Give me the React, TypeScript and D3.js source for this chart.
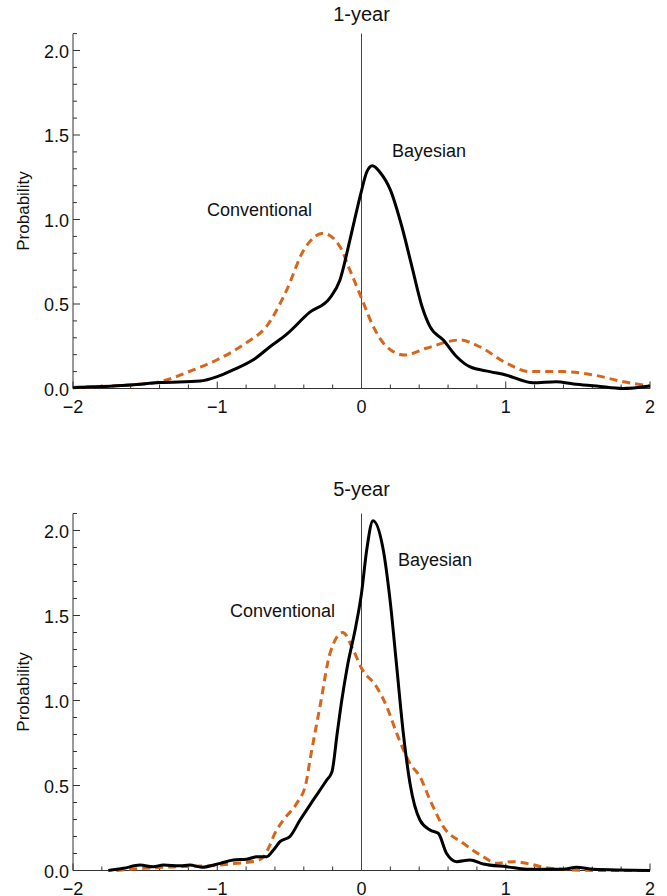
import React from "react";
import * as d3 from "d3";

// ---------- data ----------
const xTickValues = [-2, -1, 0, 1, 2];
const xTickLabels = ["\u22122", "\u22121", "0", "1", "2"];
const yTickValues = [0, 0.5, 1, 1.5, 2];
const yTickLabels = ["0.0", "0.5", "1.0", "1.5", "2.0"];
const panelTitles = ["1-year", "5-year"];
const seriesNames = ["Bayesian", "Conventional"];

// 1-year, Bayesian (black solid)
const bayes1X = [-2.0, -1.8, -1.6, -1.4, -1.12, -1.0, -0.89, -0.75, -0.63, -0.52, -0.36, -0.22, -0.15, -0.08, 0.0, 0.036, 0.075, 0.128, 0.2, 0.28, 0.35, 0.42, 0.475, 0.567, 0.66, 0.75, 0.89, 1.0, 1.19, 1.35, 1.47, 1.63, 1.81, 2.0];
const bayes1Y = [0.005, 0.012, 0.02, 0.035, 0.044, 0.07, 0.11, 0.17, 0.25, 0.32, 0.45, 0.535, 0.64, 0.88, 1.17, 1.28, 1.318, 1.28, 1.175, 0.957, 0.72, 0.484, 0.366, 0.287, 0.188, 0.129, 0.1, 0.08, 0.034, 0.04, 0.027, 0.015, 0.0, 0.015];
// 1-year, Conventional (orange dashed)
const conv1X = [-2.0, -1.63, -1.4, -1.166, -1.0, -0.8, -0.66, -0.52, -0.4, -0.265, -0.15, -0.08, 0.0, 0.082, 0.175, 0.3, 0.45, 0.683, 0.82, 1.007, 1.168, 1.4, 1.607, 1.815, 2.0];
const conv1Y = [0.007, 0.02, 0.04, 0.11, 0.17, 0.27, 0.366, 0.58, 0.82, 0.918, 0.84, 0.7, 0.535, 0.366, 0.247, 0.198, 0.238, 0.287, 0.247, 0.149, 0.1, 0.1, 0.08, 0.04, 0.015];
// 5-year, Bayesian
const bayes5X = [-1.755, -1.65, -1.535, -1.443, -1.374, -1.258, -1.19, -1.108, -0.98, -0.888, -0.796, -0.727, -0.657, -0.611, -0.565, -0.496, -0.426, -0.334, -0.241, -0.205, -0.168, -0.137, -0.098, -0.04, 0.0, 0.036, 0.08, 0.151, 0.198, 0.244, 0.29, 0.336, 0.405, 0.475, 0.532, 0.59, 0.66, 0.752, 0.844, 1.007, 1.168, 1.4, 1.49, 1.607, 2.0];
const bayes5Y = [0.0, 0.013, 0.032, 0.022, 0.032, 0.028, 0.032, 0.019, 0.042, 0.062, 0.066, 0.081, 0.081, 0.12, 0.17, 0.2, 0.297, 0.415, 0.532, 0.58, 0.81, 1.0, 1.2, 1.434, 1.63, 1.885, 2.058, 1.885, 1.59, 1.2, 0.807, 0.513, 0.297, 0.238, 0.219, 0.1, 0.052, 0.062, 0.038, 0.022, 0.007, 0.007, 0.019, 0.007, 0.0];
// 5-year, Conventional
const conv5X = [-1.7, -1.51, -1.28, -1.05, -0.865, -0.727, -0.685, -0.64, -0.6, -0.542, -0.449, -0.385, -0.357, -0.288, -0.218, -0.13, -0.057, 0.0, 0.105, 0.175, 0.244, 0.336, 0.405, 0.475, 0.567, 0.706, 0.844, 0.937, 1.052, 1.168, 1.307, 1.63, 2.0];
const conv5Y = [0.0, 0.013, 0.022, 0.028, 0.042, 0.058, 0.075, 0.14, 0.22, 0.297, 0.395, 0.513, 0.65, 0.964, 1.278, 1.4, 1.297, 1.19, 1.08, 0.964, 0.807, 0.63, 0.552, 0.415, 0.258, 0.16, 0.081, 0.042, 0.052, 0.038, 0.013, 0.0, 0.0];

const FONT = "'Liberation Sans', Arial, sans-serif";
const ORANGE = "#d5661c";

type PanelProps = {
  title: string;
  titleY: number;
  bx: number[];
  by: number[];
  cx: number[];
  cy: number[];
  top: number;
  bottom: number;
  convPos: [number, number];
  bayesPos: [number, number];
};

function Panel({ title, titleY, bx, by, cx, cy, top, bottom, convPos, bayesPos }: PanelProps) {
  const x = d3.scaleLinear().domain([-2, 2]).range([73, 650]);
  const y = d3.scaleLinear().domain([0, 2.1]).range([bottom, top]);
  const line = d3
    .line<[number, number]>()
    .x((d) => x(d[0]))
    .y((d) => y(d[1]))
    .curve(d3.curveMonotoneX);
  const bPts = bx.map((v, i) => [v, by[i]] as [number, number]);
  const cPts = cx.map((v, i) => [v, cy[i]] as [number, number]);
  const minorX = d3.range(-20, 21, 2).map((v) => v / 10);
  const minorY = d3.range(0, 22, 1).map((v) => v / 10);
  const y0 = y(0);
  const x0 = x(-2);
  return (
    <g>
      <text x={x(0)} y={titleY} textAnchor="middle" fontSize={20} fontFamily={FONT} fill="#111">
        {title}
      </text>
      {/* axes */}
      <line x1={x0} x2={x0} y1={top} y2={y0} stroke="#333" strokeWidth={1} />
      <line x1={x0} x2={x(2)} y1={y0} y2={y0} stroke="#333" strokeWidth={1} />
      {minorY.map((v) => (
        <line key={"my" + v} x1={x0} x2={x0 + (Math.abs(v * 2 - Math.round(v * 2)) < 1e-6 ? 7 : 4)} y1={y(v)} y2={y(v)} stroke="#333" strokeWidth={1} />
      ))}
      {minorX.map((v) => (
        <line key={"mx" + v} x1={x(v)} x2={x(v)} y1={y0} y2={y0 - (Math.abs(v - Math.round(v)) < 1e-6 ? 7 : 4)} stroke="#333" strokeWidth={1} />
      ))}
      {yTickValues.map((v, i) => (
        <text key={"yl" + v} x={x0 - 4} y={y(v) + 1} textAnchor="end" dominantBaseline="central" fontSize={18} fontFamily={FONT} fill="#111">
          {yTickLabels[i]}
        </text>
      ))}
      {xTickValues.map((v, i) => (
        <text key={"xl" + v} x={x(v)} y={y0 + 18} textAnchor="middle" dominantBaseline="central" fontSize={18} fontFamily={FONT} fill="#111">
          {xTickLabels[i]}
        </text>
      ))}
      <text
        transform={`translate(23,${(top + y0) / 2}) rotate(-90)`}
        textAnchor="middle"
        dominantBaseline="central"
        fontSize={17}
        fontFamily={FONT}
        fill="#111"
      >
        Probability
      </text>
      {/* zero line */}
      <line x1={x(0)} x2={x(0)} y1={top} y2={y0} stroke="#444" strokeWidth={1} />
      <path d={line(cPts) || ""} fill="none" stroke={ORANGE} strokeWidth={3} strokeDasharray="8,5" />
      <path d={line(bPts) || ""} fill="none" stroke="#000" strokeWidth={3} />
      <text x={convPos[0]} y={convPos[1]} dominantBaseline="central" fontSize={18} fontFamily={FONT} fill="#111">
        {seriesNames[1]}
      </text>
      <text x={bayesPos[0]} y={bayesPos[1]} dominantBaseline="central" fontSize={18} fontFamily={FONT} fill="#111">
        {seriesNames[0]}
      </text>
    </g>
  );
}

export default function App() {
  return (
    <svg width={667} height={896} style={{ position: "absolute", left: 0, top: 0, background: "#fff" }}>
      <rect width={667} height={896} fill="#fff" />
      <Panel
        title={panelTitles[0]}
        titleY={21}
        bx={bayes1X}
        by={bayes1Y}
        cx={conv1X}
        cy={conv1Y}
        top={33.6}
        bottom={388.5}
        convPos={[207, 210]}
        bayesPos={[392, 151]}
      />
      <Panel
        title={panelTitles[1]}
        titleY={496}
        bx={bayes5X}
        by={bayes5Y}
        cx={conv5X}
        cy={conv5Y}
        top={513.5}
        bottom={870.5}
        convPos={[230, 611]}
        bayesPos={[398, 560]}
      />
    </svg>
  );
}
